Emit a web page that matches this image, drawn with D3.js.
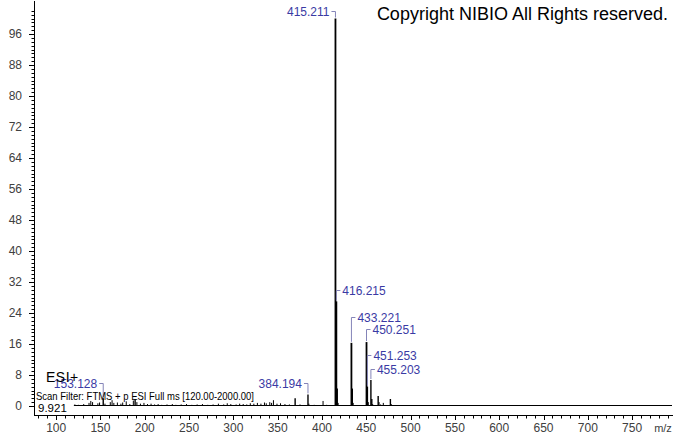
<!DOCTYPE html>
<html>
<head>
<meta charset="utf-8">
<script src="https://cdn.jsdelivr.net/npm/d3@7"></script>
<style>
  html, body { margin: 0; padding: 0; background: #fff; }
  svg { display: block; font-family: "Liberation Sans", Arial, sans-serif; }
</style>
</head>
<body>
<svg id="chart" width="674" height="434"></svg>
<script>
// ---------- data ----------
const peakMz = [
  121.1,125.1,131.1,137.1,139.1,141.1,147.1,149.0,153.128,155.1,161.1,163.1,165.1,169.1,173.1,175.1,
  179.1,183.1,187.1,189.1,191.1,195.1,199.1,203.1,207.1,211.1,215.1,219.1,225.1,231.1,235.1,241.1,
  247.1,253.1,259.1,265.1,271.1,277.1,283.1,289.1,293.1,297.1,303.1,307.1,311.1,315.1,319.1,323.1,
  327.1,331.1,335.1,337.1,341.1,343.1,345.2,349.2,353.2,358.2,363.2,369.7,375.2,384.194,385.2,391.2,
  401.2,405.2,415.211,416.215,417.22,418.2,433.221,434.22,435.2,450.251,451.253,452.25,455.203,456.21,
  457.2,463.4,464.4,466.2,469.2,477.2,478.2
];
const peakIntensity = [
  0.4,0.3,0.5,0.8,1.3,1.0,0.7,0.9,2.0,0.6,1.0,1.5,0.8,0.9,0.6,0.9,
  1.2,0.5,1.4,1.8,1.0,0.6,0.8,0.5,0.6,0.4,0.5,0.3,0.4,0.5,0.3,0.4,
  0.5,0.3,0.4,0.5,0.3,0.4,0.6,0.4,0.7,0.5,0.4,0.6,0.5,0.4,0.7,0.6,
  0.8,0.6,0.9,0.7,1.0,0.8,1.5,0.6,0.7,0.5,0.4,2.0,0.4,3.0,0.6,0.3,
  1.3,0.3,100,27,4.5,0.8,16.3,4.5,0.8,16.5,5.0,1.0,6.7,1.8,
  0.5,2.6,1.0,0.4,0.8,1.8,0.5
];
const labelText = ["415.211","416.215","433.221","450.251","451.253","455.203","384.194","153.128"];
const labelMz = [415.211,416.215,433.221,450.251,451.253,455.203,384.194,153.128];
const labelIntensity = [100,27,16.3,16.5,5.0,6.7,3.0,2.0];
const yTickValues = [0,8,16,24,32,40,48,56,64,72,80,88,96];
const xTickValues = [100,150,200,250,300,350,400,450,500,550,600,650,700,750];
const scanRange = [120, 2000];
const copyrightText = "Copyright NIBIO All Rights reserved.";
const ionModeText = "ESI+";
const filterText = "Scan Filter: FTMS + p ESI Full ms [120.00-2000.00]";
const rtText = "9.921";
const xAxisTitle = "m/z";

// ---------- layout (not data) ----------
// label placement: side (-1 left, +1 right) and lift above peak top (px)
const labelLayout = {
  "415.211": {side: -1, lift: 8},
  "416.215": {side: 1, lift: 11},
  "433.221": {side: 1, lift: 26},
  "450.251": {side: 1, lift: 13},
  "451.253": {side: 1, lift: 32},
  "455.203": {side: 1, lift: 11},
  "384.194": {side: -1, lift: 11},
  "153.128": {side: -1, lift: 15}
};

const svg = d3.select("#chart");
const x = d3.scaleLinear().domain([75, 795]).range([34, 672]);
const y = d3.scaleLinear().domain([0, 104.26]).range([406, 2]);
const baselineY = 405;
const tickColor = "#404040";

// ---------- y axis ----------
const yMinor = d3.range(0, 103, 1);
const yAxisG = svg.append("g");
yAxisG.append("line").attr("x1", 34.5).attr("x2", 34.5).attr("y1", 1).attr("y2", 415)
  .attr("stroke", "#000").attr("stroke-width", 1);
yAxisG.selectAll("line.minor").data(yMinor).join("line")
  .attr("class", "minor")
  .attr("x1", d => yTickValues.includes(d) ? 29 : 31.5).attr("x2", 34.5)
  .attr("y1", d => Math.round(y(d)) + 0.5).attr("y2", d => Math.round(y(d)) + 0.5)
  .attr("stroke", "#000").attr("stroke-width", 1);
yAxisG.selectAll("text").data(yTickValues).join("text")
  .attr("x", 22).attr("y", d => y(d)).attr("dy", "0.35em")
  .attr("text-anchor", "end").attr("font-size", 12).attr("fill", tickColor)
  .text(d => d);

// ---------- x axis ----------
const xMinor = d3.range(80, 800, 10);
const xAxisG = svg.append("g");
xAxisG.append("line").attr("x1", 34).attr("x2", 673).attr("y1", 415.5).attr("y2", 415.5)
  .attr("stroke", "#000").attr("stroke-width", 1);
xAxisG.selectAll("line.minor").data(xMinor).join("line")
  .attr("x1", d => Math.round(x(d)) + 0.5).attr("x2", d => Math.round(x(d)) + 0.5)
  .attr("y1", 415.5).attr("y2", d => xTickValues.includes(d) ? 420 : 418.5)
  .attr("stroke", "#000").attr("stroke-width", 1);
xAxisG.selectAll("text").data(xTickValues).join("text")
  .attr("x", d => x(d)).attr("y", 432)
  .attr("text-anchor", "middle").attr("font-size", 12).attr("fill", tickColor)
  .text(d => d);
svg.append("text").attr("x", 663).attr("y", 432).attr("text-anchor", "middle")
  .attr("font-size", 11).attr("fill", tickColor).text(xAxisTitle);

// ---------- spectrum ----------
svg.append("line")
  .attr("x1", x(scanRange[0])).attr("x2", x.range()[1])
  .attr("y1", baselineY + 0.5).attr("y2", baselineY + 0.5)
  .attr("stroke", "#000").attr("stroke-width", 1.2);

const peaks = peakMz.map((m, i) => ({mz: m, v: peakIntensity[i]}));
svg.append("g").selectAll("line").data(peaks).join("line")
  .attr("x1", d => x(d.mz)).attr("x2", d => x(d.mz))
  .attr("y1", baselineY + 0.5).attr("y2", d => y(d.v))
  .attr("stroke", "#000")
  .attr("stroke-width", d => d.v > 10 ? 1.8 : (d.v > 1.5 ? 1.4 : 1));

// ---------- peak labels ----------
const labels = labelText.map((t, i) => ({t, mz: labelMz[i], v: labelIntensity[i], ...labelLayout[t]}));
const lg = svg.append("g");
labels.forEach(d => {
  const px = x(d.mz);
  const top = y(d.v);
  const ly = Math.round(top - d.lift) + 0.5;
  lg.append("path")
    .attr("d", `M${px},${top - 1}V${ly}H${px + d.side * 4}`)
    .attr("fill", "none").attr("stroke", "#8484b8").attr("stroke-width", 1);
  lg.append("text")
    .attr("x", px + d.side * 6).attr("y", ly).attr("dy", "0.35em")
    .attr("text-anchor", d.side < 0 ? "end" : "start")
    .attr("font-size", 12).attr("fill", "#3a3aa4")
    .text(d.t);
});

// ---------- annotations ----------
svg.append("text").attr("x", 668).attr("y", 20).attr("text-anchor", "end")
  .attr("font-size", 18).attr("fill", "#000").text(copyrightText);
svg.append("text").attr("x", 46).attr("y", 382)
  .attr("font-size", 14).attr("fill", "#000").attr("letter-spacing", 0.5).text(ionModeText);
svg.append("text").attr("x", 36).attr("y", 399.5)
  .attr("font-size", 11.5).attr("fill", "#000")
  .attr("textLength", 218).attr("lengthAdjust", "spacingAndGlyphs").text(filterText);
svg.append("text").attr("x", 38).attr("y", 412)
  .attr("font-size", 11.5).attr("fill", "#000").text(rtText);
</script>
</body>
</html>
